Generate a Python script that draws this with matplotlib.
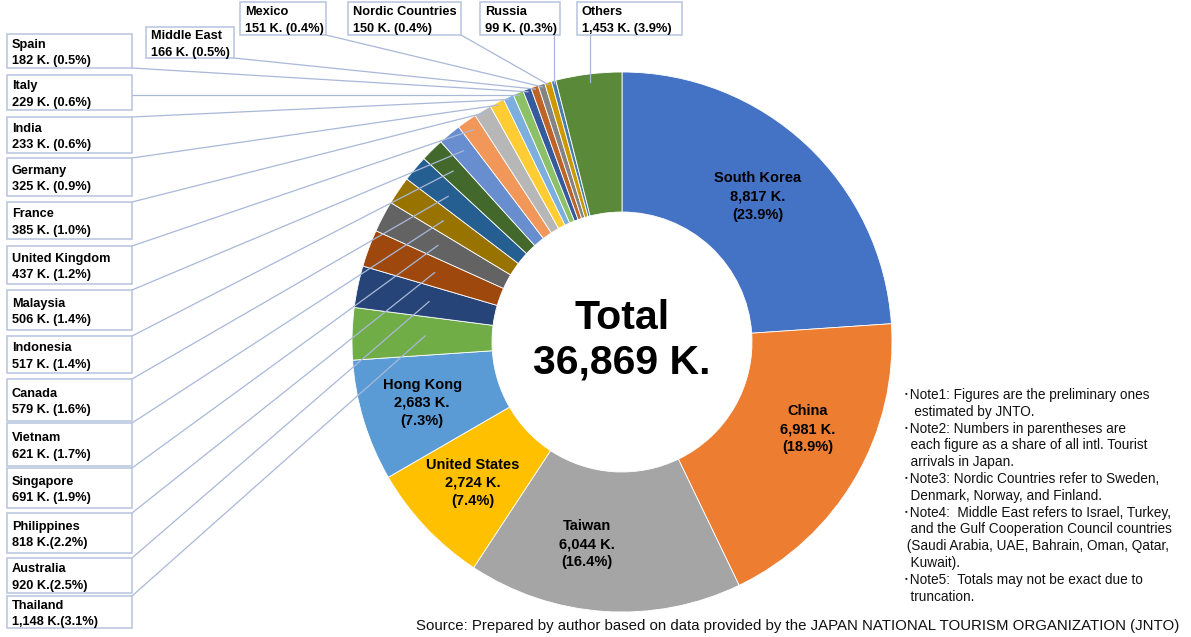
import numpy as np
import matplotlib.pyplot as plt
from matplotlib.patches import Rectangle

plt.rcParams['font.family'] = ['Liberation Sans', 'Noto Sans CJK JP', 'DejaVu Sans']

# Visitor arrivals by market, thousands (clockwise from 12 o'clock)
markets = ["South Korea", "China", "Taiwan", "United States", "Hong Kong",
           "Thailand", "Australia", "Philippines", "Singapore", "Vietnam",
           "Canada", "Indonesia", "Malaysia", "United Kingdom", "France",
           "Germany", "India", "Italy", "Spain", "Middle East", "Mexico",
           "Nordic Countries", "Russia", "Others"]
arrivals = [8817, 6981, 6044, 2724, 2683,
            1148, 920, 818, 691, 621,
            579, 517, 506, 437, 385,
            325, 233, 229, 182, 166, 151,
            150, 99, 1453]
TOTAL = 36869

colors = ["#4472C4", "#ED7D31", "#A5A5A5", "#FFC000", "#5B9BD5",
          "#70AD47", "#264478", "#9E480E", "#636363", "#997300",
          "#255E91", "#43682B", "#698ED0", "#F1975A", "#B7B7B7",
          "#FFCD33", "#7CAFDD", "#8CC168", "#365B9D", "#BE6427", "#848484",
          "#CC9A00", "#497CAA", "#5A8A39"]

inside = ["South Korea", "China", "Taiwan", "United States", "Hong Kong"]
no_space = {"Philippines", "Australia", "Thailand"}

notes = [
    "･Note1: Figures are the preliminary ones",
    "   estimated by JNTO.",
    "･Note2: Numbers in parentheses are",
    "  each figure as a share of all intl. Tourist",
    "  arrivals in Japan.",
    "･Note3: Nordic Countries refer to Sweden,",
    "  Denmark, Norway, and Finland.",
    "･Note4:  Middle East refers to Israel, Turkey,",
    "  and the Gulf Cooperation Council countries",
    " (Saudi Arabia, UAE, Bahrain, Oman, Qatar,",
    "  Kuwait).",
    "･Note5:  Totals may not be exact due to",
    "  truncation.",
]
source = ("Source: Prepared by author based on data provided by the "
          "JAPAN NATIONAL TOURISM ORGANIZATION (JNTO)")

# ---- layout (pixel units, y measured from the top) ----
W, H = 1191, 637
CX, CY, R = 622, 342, 270
RING = 140

# boxes on the left: name -> (top, bottom)
left_boxes = {
    "Spain": (34, 68), "Italy": (75, 110), "India": (117, 153),
    "Germany": (158, 196), "France": (202, 239), "United Kingdom": (246, 284),
    "Malaysia": (290, 330), "Indonesia": (336, 373), "Canada": (379, 421),
    "Vietnam": (423, 466), "Singapore": (468, 508), "Philippines": (513, 553),
    "Australia": (558, 593), "Thailand": (596, 628),
}
LEFT_X0, LEFT_X1 = 7, 132
# boxes along the top: name -> (x0, x1, top, bottom)
top_boxes = {
    "Middle East": (146, 234, 27, 58), "Mexico": (240, 326, 2, 35),
    "Nordic Countries": (348, 461, 2, 35), "Russia": (480, 560, 2, 35),
    "Others": (577, 682, 2, 35),
}
# how deep into the ring each leader line reaches (fraction of R)
leader_depth = {
    "Thailand": 0.73, "Australia": 0.73, "Philippines": 0.74,
    "Singapore": 0.77, "Vietnam": 0.80, "Canada": 0.84, "Indonesia": 0.89,
    "Malaysia": 0.92, "United Kingdom": 0.96, "Others": 0.97,
}
# small adjustments for the labels printed on the ring: (degrees, radius)
label_nudge = {"South Korea": (0, -6), "China": (5, 0), "Taiwan": (-6, 0),
               "Hong Kong": (0, 4)}


def Y(y):
    return H - y


fig = plt.figure(figsize=(W / 100, H / 100), dpi=100)
ax = fig.add_axes([0, 0, 1, 1])

ax.pie(arrivals, colors=colors, startangle=90, counterclock=False,
       radius=R, center=(CX, Y(CY)), frame=True,
       wedgeprops=dict(width=RING, edgecolor="white", linewidth=0.6))
ax.set_xlim(0, W)
ax.set_ylim(0, H)
ax.set_aspect("equal")
ax.axis("off")

vals = np.array(arrivals, dtype=float)
cum = np.cumsum(vals) - vals / 2
mid_deg = 90 - 360 * cum / vals.sum()


def fmt_value(v):
    return f"{v:,} K."


def fmt_pct(v):
    return f"({v / TOTAL * 100:.1f}%)"


line_kw = dict(color="#A9B8D9", lw=0.9, zorder=1)
box_kw = dict(facecolor="white", edgecolor="#B6C3DF", lw=1.1, zorder=3)

for name, v, ang in zip(markets, arrivals, mid_deg):
    if name in inside:
        dang, dr = label_nudge.get(name, (0, 0))
        a = np.radians(ang + dang)
        rr = R - RING / 2 + 5 + dr
        ax.text(CX + rr * np.cos(a), Y(CY) + rr * np.sin(a),
                f"{name}\n{fmt_value(v)}\n{fmt_pct(v)}",
                ha="center", va="center", fontsize=10.5, fontweight="bold",
                linespacing=1.38, zorder=4)
        continue

    sep = "" if name in no_space else " "
    label = f"{name}\n{fmt_value(v)}{sep}{fmt_pct(v)}"
    if name in left_boxes:
        t, b = left_boxes[name]
        x0, x1 = LEFT_X0, LEFT_X1
    else:
        x0, x1, t, b = top_boxes[name]

    ax.add_patch(Rectangle((x0, Y(b)), x1 - x0, b - t, **box_kw))
    ax.text(x0 + 5, Y((t + b) / 2 + 2), label, ha="left", va="center",
            fontsize=9.2, fontweight="bold", linespacing=1.45, zorder=4)

    # leader line from the nearest point of the box into the wedge
    a = np.radians(ang)
    rr = R * leader_depth.get(name, 0.99)
    ex, ey = CX + rr * np.cos(a), Y(CY) + rr * np.sin(a)
    sx = min(max(ex, x0), x1)
    sy = min(max(ey, Y(b)), Y(t))
    ax.plot([sx, ex], [sy, ey], **line_kw)

# total in the hole
ax.text(CX, Y(CY - 2), f"Total\n{TOTAL:,} K.", ha="center", va="center",
        fontsize=29.5, fontweight="bold", linespacing=1.2, zorder=4)

# notes on the right
for i, line in enumerate(notes):
    ax.text(903, Y(395 + i * 16.8), line, ha="left", va="center",
            fontsize=9.8, color="#111111")

ax.text(W - 12, Y(626), source, ha="right", va="center", fontsize=10.8,
        color="#111111")

fig.savefig("out.png", dpi=100)
